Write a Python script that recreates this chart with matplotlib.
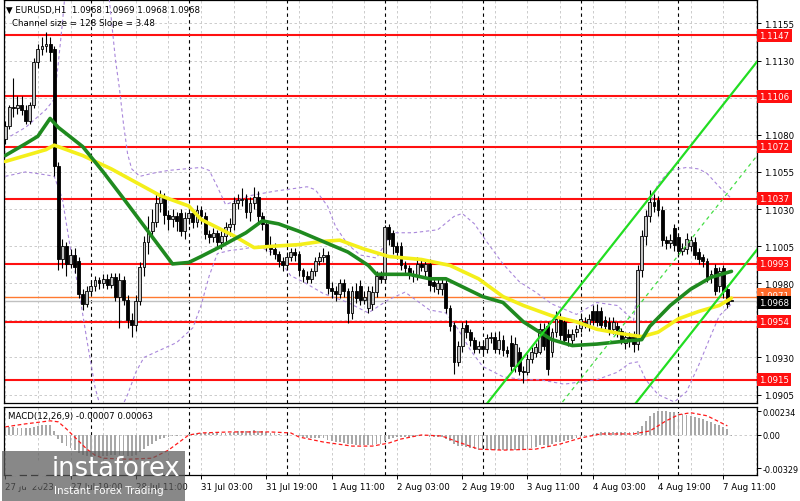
import numpy as np
import matplotlib.pyplot as plt
import matplotlib.transforms as mtransforms
from matplotlib.patches import Rectangle, Circle

# EURUSD H1 candles (bar 0 = 27 Jul 03:00)
opens = [
    1.1077, 1.1086, 1.1099, 1.1098, 1.1100, 1.1097, 1.1089, 1.1100, 1.1129, 1.1138,
    1.1140, 1.1141, 1.1138, 1.1059, 1.0996, 1.1005, 1.0993, 1.0999, 1.0995, 1.0973,
    1.0966, 1.0975, 1.0978, 1.0982, 1.0980, 1.0983, 1.0979, 1.0984, 1.0971, 1.0982,
    1.0969, 1.0955, 1.0952, 1.0968, 1.0991, 1.1008, 1.1015, 1.1021, 1.1034, 1.1038,
    1.1026, 1.1023, 1.1025, 1.1027, 1.1015, 1.1024, 1.1027, 1.1021, 1.1029, 1.1025,
    1.1013, 1.1011, 1.1014, 1.1008, 1.1012, 1.1018, 1.1020, 1.1034, 1.1036, 1.1037,
    1.1028, 1.1034, 1.1038, 1.1025, 1.1020, 1.1006, 1.1003, 1.1000, 1.0995, 1.0992,
    1.0998, 1.1001, 1.1000, 1.0989, 1.0985, 1.0983, 1.0988, 1.0995, 1.0998, 1.0999,
    1.0977, 1.0975, 1.0973, 1.0980, 1.0975, 1.0960, 1.0975, 1.0978, 1.0969, 1.0963,
    1.0966, 1.0974, 1.0985, 1.0983, 1.1018, 1.1014, 1.1005, 1.1005, 1.0992, 1.0990,
    1.0986, 1.0985, 1.0993, 1.0988, 1.0993, 1.0981, 1.0976, 1.0976, 1.0980, 1.0963,
    1.0952, 1.0927, 1.0938, 1.0952, 1.0947, 1.0942, 1.0936, 1.0938, 1.0936, 1.0943,
    1.0944, 1.0936, 1.0942, 1.0935, 1.0940, 1.0924, 1.0934, 1.0921, 1.0920, 1.0929,
    1.0933, 1.0934, 1.0949, 1.0951, 1.0934, 1.0947, 1.0956, 1.0954, 1.0946, 1.0942,
    1.0947, 1.0950, 1.0953, 1.0951, 1.0961, 1.0961, 1.0961, 1.0955, 1.0954, 1.0949,
    1.0951, 1.0948, 1.0940, 1.0944, 1.0946, 1.0939, 1.0989, 1.1012, 1.1025, 1.1035,
    1.1036, 1.1029, 1.1009, 1.1007, 1.1017, 1.1011, 1.1002, 1.1003, 1.1005, 1.1008,
    1.1001, 1.0998, 1.0995, 1.0984, 1.0990, 1.0978, 1.0990, 1.0976, 1.0968,
]
highs = [
    1.1089, 1.1100, 1.1118, 1.1106, 1.1106, 1.1100, 1.1102, 1.1132, 1.1141, 1.1146,
    1.1149, 1.1146, 1.1140, 1.1062, 1.1010, 1.1008, 1.1003, 1.1004, 1.0998, 1.0976,
    1.0978, 1.0982, 1.0985, 1.0984, 1.0986, 1.0986, 1.0987, 1.0987, 1.0987, 1.0985,
    1.0972, 1.0960, 1.0972, 1.0994, 1.1012, 1.1025, 1.1030, 1.1041, 1.1043, 1.1041,
    1.1029, 1.1030, 1.1028, 1.1030, 1.1028, 1.1031, 1.1030, 1.1033, 1.1032, 1.1028,
    1.1016, 1.1017, 1.1016, 1.1015, 1.1021, 1.1024, 1.1038, 1.1040, 1.1044, 1.1040,
    1.1038, 1.1045, 1.1042, 1.1028, 1.1022, 1.1012, 1.1007, 1.1002, 1.0998, 1.1001,
    1.1004, 1.1004, 1.1002, 1.0990, 1.0988, 1.0990, 1.0998, 1.1001, 1.1004, 1.1002,
    1.0981, 1.0978, 1.0983, 1.0983, 1.0977, 1.0978, 1.0980, 1.0982, 1.0975, 1.0978,
    1.0978, 1.0988, 1.0988, 1.1019, 1.1020, 1.1016, 1.1008, 1.1008, 1.0995, 1.0992,
    1.0989, 1.0998, 1.0997, 1.0996, 1.0996, 1.0983, 1.0984, 1.0983, 1.0982, 1.0965,
    1.0954, 1.0941, 1.0954, 1.0955, 1.0949, 1.0944, 1.0941, 1.0941, 1.0946, 1.0947,
    1.0947, 1.0948, 1.0945, 1.0938, 1.0945, 1.0944, 1.0937, 1.0924, 1.0932, 1.0937,
    1.0940, 1.0953, 1.0953, 1.0954, 1.0950, 1.0961, 1.0960, 1.0957, 1.0949, 1.0949,
    1.0952, 1.0959, 1.0957, 1.0959, 1.0965, 1.0966, 1.0964, 1.0958, 1.0957, 1.0957,
    1.0954, 1.0950, 1.0947, 1.0947, 1.0948, 1.0992, 1.1016, 1.1029, 1.1043, 1.1040,
    1.1039, 1.1032, 1.1012, 1.1013, 1.1020, 1.1014, 1.1007, 1.1014, 1.1012, 1.1011,
    1.1004, 1.1000, 1.0997, 1.0989, 1.0993, 1.0991, 1.0992, 1.0979, 1.0969,
]
lows = [
    1.1074, 1.1084, 1.1092, 1.1094, 1.1093, 1.1087, 1.1087, 1.1098, 1.1125, 1.1134,
    1.1136, 1.1130, 1.1052, 1.0989, 1.0990, 1.0985, 1.0990, 1.0987, 1.0970, 1.0962,
    1.0964, 1.0972, 1.0975, 1.0976, 1.0977, 1.0976, 1.0977, 1.0968, 1.0950, 1.0965,
    1.0950, 1.0944, 1.0948, 1.0965, 1.0985, 1.1000, 1.1010, 1.1018, 1.1028, 1.1020,
    1.1016, 1.1018, 1.1015, 1.1012, 1.1010, 1.1020, 1.1017, 1.1018, 1.1020, 1.1010,
    1.1007, 1.1008, 1.1004, 1.1003, 1.1008, 1.1012, 1.1016, 1.1030, 1.1032, 1.1024,
    1.1022, 1.1030, 1.1020, 1.1016, 1.1002, 1.0999, 1.0996, 1.0991, 1.0988, 1.0989,
    1.0995, 1.0995, 1.0985, 1.0981, 1.0980, 1.0980, 1.0985, 1.0992, 1.0994, 1.0973,
    1.0970, 1.0968, 1.0970, 1.0971, 1.0953, 1.0956, 1.0967, 1.0965, 1.0966, 1.0960,
    1.0962, 1.0971, 1.0980, 1.0980, 1.1006, 1.1000, 1.0996, 1.0989, 1.0986, 1.0983,
    1.0981, 1.0982, 1.0988, 1.0984, 1.0975, 1.0974, 1.0973, 1.0972, 1.0960, 1.0948,
    1.0919, 1.0924, 1.0934, 1.0943, 1.0938, 1.0933, 1.0933, 1.0932, 1.0933, 1.0940,
    1.0933, 1.0932, 1.0931, 1.0930, 1.0920, 1.0920, 1.0918, 1.0913, 1.0918, 1.0926,
    1.0930, 1.0932, 1.0935, 1.0918, 1.0930, 1.0944, 1.0942, 1.0939, 1.0938, 1.0939,
    1.0944, 1.0947, 1.0950, 1.0948, 1.0952, 1.0951, 1.0949, 1.0948, 1.0945, 1.0946,
    1.0944, 1.0939, 1.0936, 1.0937, 1.0934, 1.0935, 1.0984, 1.1006, 1.1021, 1.1028,
    1.1025, 1.1005, 1.1003, 1.1004, 1.1002, 1.0998, 1.0999, 1.1000, 1.1002, 1.0996,
    1.0993, 1.0991, 1.0981, 1.0980, 1.0972, 1.0974, 1.0970, 1.0963, 1.0968,
]
closes = [
    1.1086, 1.1099, 1.1098, 1.1100, 1.1097, 1.1089, 1.1100, 1.1129, 1.1138, 1.1140,
    1.1141, 1.1136, 1.1059, 1.0996, 1.1005, 1.0993, 1.0999, 1.0991, 1.0973, 1.0966,
    1.0975, 1.0978, 1.0982, 1.0980, 1.0983, 1.0979, 1.0984, 1.0971, 1.0982, 1.0969,
    1.0955, 1.0952, 1.0968, 1.0991, 1.1008, 1.1015, 1.1021, 1.1034, 1.1038, 1.1026,
    1.1023, 1.1025, 1.1022, 1.1015, 1.1024, 1.1027, 1.1021, 1.1029, 1.1025, 1.1013,
    1.1011, 1.1014, 1.1008, 1.1012, 1.1018, 1.1020, 1.1034, 1.1036, 1.1037, 1.1028,
    1.1034, 1.1038, 1.1025, 1.1020, 1.1006, 1.1003, 1.1000, 1.0995, 1.0992, 1.0998,
    1.1001, 1.0999, 1.0989, 1.0985, 1.0983, 1.0988, 1.0995, 1.0998, 1.0999, 1.0977,
    1.0975, 1.0973, 1.0980, 1.0975, 1.0960, 1.0975, 1.0970, 1.0969, 1.0971, 1.0975,
    1.0974, 1.0985, 1.0983, 1.1018, 1.1010, 1.1005, 1.1001, 1.0992, 1.0990, 1.0986,
    1.0985, 1.0993, 1.0991, 1.0993, 1.0979, 1.0978, 1.0980, 1.0980, 1.0963, 1.0951,
    1.0927, 1.0938, 1.0950, 1.0947, 1.0942, 1.0936, 1.0938, 1.0936, 1.0943, 1.0944,
    1.0936, 1.0942, 1.0935, 1.0933, 1.0924, 1.0939, 1.0921, 1.0920, 1.0929, 1.0934,
    1.0937, 1.0949, 1.0938, 1.0922, 1.0947, 1.0956, 1.0945, 1.0942, 1.0944, 1.0946,
    1.0949, 1.0956, 1.0954, 1.0956, 1.0955, 1.0954, 1.0952, 1.0951, 1.0948, 1.0954,
    1.0947, 1.0942, 1.0944, 1.0941, 1.0939, 1.0989, 1.1012, 1.1025, 1.1035, 1.1032,
    1.1029, 1.1009, 1.1007, 1.1009, 1.1006, 1.1002, 1.1004, 1.1010, 1.1009, 1.0999,
    1.0996, 1.0995, 1.0984, 1.0986, 1.0975, 1.0988, 1.0975, 1.0966, 1.0968,
]

# moving averages (bar index, price)
green_idx = [0, 5, 8, 11, 13, 19, 24, 29, 35, 41, 45, 48, 53, 59, 63, 67, 72, 78, 84,
             89, 91, 99, 104, 108, 117, 122, 127, 131, 134, 139, 145, 152, 156, 158,
             163, 168, 173, 178]
green_ma = [1.1066, 1.1074, 1.1079, 1.1091, 1.1085, 1.1072, 1.1055, 1.1037, 1.1015,
            1.0993, 1.0994, 1.0998, 1.1005, 1.1014, 1.1022, 1.1020, 1.1015, 1.1008,
            1.1001, 1.0992, 1.0986, 1.0986, 1.0983, 1.0983, 1.0971, 1.0967, 1.0954,
            1.0947, 1.0942, 1.0938, 1.0939, 1.0941, 1.0942, 1.0951, 1.0965, 1.0976,
            1.0984, 1.0988]
yellow_idx = [0, 5, 10, 12, 19, 26, 32, 38, 45, 48, 56, 61, 66, 72, 77, 82, 88, 94,
              102, 109, 116, 122, 127, 131, 134, 140, 145, 151, 156, 160, 165, 170,
              175, 178]
yellow_ma = [1.1062, 1.1066, 1.1070, 1.1073, 1.1066, 1.1057, 1.1048, 1.1039, 1.1032,
             1.1023, 1.1012, 1.1004, 1.1005, 1.1006, 1.1008, 1.1009, 1.1003, 1.0998,
             1.0996, 1.0992, 1.0983, 1.0971, 1.0965, 1.0961, 1.0958, 1.0954, 1.0949,
             1.0946, 1.0944, 1.0947, 1.0956, 1.0961, 1.0965, 1.0970]

# dotted bands
up_idx = [0, 5, 10, 12, 13, 14, 15, 25, 26, 27, 28, 29, 30, 31, 33, 36, 40, 44, 48,
          50, 52, 54, 56, 60, 66, 74, 76, 79, 81, 84, 87, 91, 93, 95, 100, 106, 110,
          112, 115, 118, 122, 126, 130, 134, 140, 145, 150, 154, 155, 156, 157, 158,
          160, 163, 167, 170, 172, 175, 178]
up_band = [1.1077, 1.1085, 1.1097, 1.1104, 1.1128, 1.1155, 1.1185, 1.1185, 1.1158,
           1.1131, 1.1111, 1.1087, 1.1067, 1.1057, 1.1052, 1.1054, 1.1056, 1.1057,
           1.1058, 1.1056, 1.1045, 1.1033, 1.1035, 1.1039, 1.1042, 1.1045, 1.1043,
           1.1032, 1.1018, 1.1006, 1.0999, 1.0997, 1.1006, 1.1014, 1.1014, 1.1016,
           1.1025, 1.1027, 1.1020, 1.1008, 1.0993, 1.0981, 1.0974, 1.0966, 1.0959,
           1.0967, 1.0965, 1.0955, 1.0976, 1.0999, 1.1020, 1.1033, 1.1047, 1.1056,
           1.1058, 1.1057, 1.1054, 1.1045, 1.1037]
lo_idx = [0, 5, 10, 12, 14, 16, 18, 20, 22, 24, 28, 30, 32, 34, 38, 42, 46, 48, 50,
          52, 55, 58, 62, 66, 70, 73, 78, 84, 89, 94, 98, 104, 108, 111, 114, 117, 122,
          127, 131, 137, 145, 150, 153, 155, 157, 160, 164, 167, 170, 173, 175, 178]
lo_band = [1.1052, 1.1055, 1.1053, 1.1052, 1.1037, 1.1003, 1.0976, 1.0942, 1.0910,
           1.0890, 1.0893, 1.0905, 1.0920, 1.0930, 1.0935, 1.0940, 1.0950, 1.0965,
           1.0985, 1.1000, 1.1002, 1.1003, 1.1005, 1.1000, 1.0985, 1.0981, 1.0973,
           1.0967, 1.0960, 1.0969, 1.0974, 1.0962, 1.0960, 1.0949, 1.0935, 1.0924,
           1.0917, 1.0915, 1.0915, 1.0912, 1.0915, 1.0920, 1.0926, 1.0927, 1.0915,
           1.0905, 1.0900, 1.0907, 1.0925, 1.0945, 1.0958, 1.0966]

levels = [1.1147, 1.1106, 1.1072, 1.1037, 1.0993, 1.0954, 1.0915]
price_ticks = [1.1155, 1.1130, 1.1080, 1.1055, 1.1030, 1.1005, 1.0980, 1.0930, 1.0905]
grid_prices = [1.1155, 1.1130, 1.1105, 1.1080, 1.1055, 1.1030, 1.1005, 1.0980,
               1.0955, 1.0930, 1.0905]
bid = 1.0968
ask_line = 1.0971

# regression channel: 128 bars, slope 3.48 pips per bar
chan_start, chan_end = 50, 184.3
chan_ref_idx = 184.0
chan_low_ref = 1.10017
chan_width = 0.01266
chan_slope = 0.000348

# MACD(12,26,9) main line, in units of 0.0001
macd_main = [
    8, 8, 8, 7, 7, 7, 7, 8, 9, 10, 10, 10, 4, -4, -8, -11, -13, -15, -18, -20,
    -21, -21, -21, -21, -21, -21, -20, -20, -20, -20, -21, -21, -20, -17, -14, -11, -9, -6, -4, -3,
    -2, -1, -1, 0, 0, 1, 1, 2, 2, 2, 2, 2, 2, 2, 2, 2, 3, 4, 4, 4,
    4, 5, 4, 4, 3, 2, 2, 1, 0, 0, 0, 0, -1, -2, -3, -3, -3, -3, -3, -5,
    -6, -7, -7, -8, -9, -9, -10, -10, -10, -10, -10, -9, -9, -6, -4, -3, -2, -2, -2, -2,
    -2, -1, -1, -1, -2, -2, -2, -2, -4, -6, -9, -11, -11, -12, -13, -14, -15, -15, -15, -15,
    -15, -15, -15, -15, -15, -15, -15, -15, -14, -13, -12, -10, -10, -11, -9, -7, -7, -6, -5, -4,
    -3, -2, -1, 0, 1, 2, 3, 3, 3, 3, 3, 3, 3, 3, 3, 4, 9, 14, 19, 22,
    24, 24, 24, 23, 23, 22, 21, 20, 19, 18, 17, 16, 14, 13, 11, 10, 8, 6, -1,
]
signal_idx = [0, 5, 11, 13, 15, 18, 20, 22, 24, 30, 36, 40, 43, 45, 48, 55, 65, 70,
              72, 78, 85, 90, 94, 97, 102, 107, 111, 116, 122, 130, 136, 141, 146,
              154, 158, 162, 165, 168, 172, 177]
signal_vals = [8, 11, 14, 13, 6, -6, -14, -20, -23, -24, -23, -15, -6, 0, 2, 3, 3, 2,
               -2, -7, -11, -11, -8, -4, 0, -1, -7, -14, -15, -14, -9, -3, 1, 1, 4, 14,
               20, 22, 19, 9]

time_ticks = list(range(0, 177, 16))
time_labels = ["27 Jul 2023", "27 Jul 19:00", "28 Jul 11:00", "31 Jul 03:00",
               "31 Jul 19:00", "1 Aug 11:00", "2 Aug 03:00", "2 Aug 19:00",
               "3 Aug 11:00", "4 Aug 03:00", "4 Aug 19:00", "7 Aug 11:00"]
day_breaks = [21, 45, 69, 93, 117, 141, 165]

FS = 6.2
fig = plt.figure(figsize=(8, 5.02), dpi=100)
ax = fig.add_axes([0.005, 0.1952, 0.94125, 0.8028])
mx = fig.add_axes([0.005, 0.0518, 0.94125, 0.1355], sharex=ax)

xlim = (-0.3, 184.26)
ax.set_xlim(*xlim)
ax.set_ylim(1.08993, 1.11708)
mx.set_ylim(-0.00396, 0.00277)

grid_kw = dict(color='#c4c4c4', lw=0.6, dashes=(3, 3), zorder=0)
for p in grid_prices:
    ax.axhline(p, **grid_kw)
for a in (ax, mx):
    for t in range(0, 185, 8):
        a.axvline(t, **grid_kw)
    for d in day_breaks:
        a.axvline(d, color='black', lw=0.8, dashes=(3, 3), zorder=1)
mx.axhline(0, **grid_kw)

# horizontal levels
for lv in levels:
    ax.axhline(lv, color='#ff1010', lw=1.5, zorder=2)
ax.axhline(ask_line, color='#ff7a30', lw=1.0, zorder=2)
ax.axhline(bid, color='#c0c0c0', lw=1.0, zorder=2)

# dotted bands
ax.plot(up_idx, up_band, color='#a987db', lw=0.8, dashes=(3, 2.5), zorder=3)
ax.plot(lo_idx, lo_band, color='#a987db', lw=0.8, dashes=(3, 2.5), zorder=3)

# candles
o = np.array(opens)
c = np.array(closes)
h = np.array(highs)
l = np.array(lows)
x = np.arange(len(c))
ax.vlines(x, l, h, color='black', lw=0.8, zorder=4)
body = np.maximum(np.abs(c - o), 0.00004)
cols = np.where(c >= o, '#c4c4c4', 'black')
ax.bar(x, body, bottom=np.minimum(o, c), width=0.7, color=cols,
       edgecolor='black', linewidth=0.6, zorder=5)

# moving averages
ax.plot(yellow_idx, yellow_ma, color='#f4ef1a', lw=2.6, zorder=6, solid_capstyle='round')
ax.plot(green_idx, green_ma, color='#1f8a1f', lw=2.6, zorder=7, solid_capstyle='round')

# regression channel
cx = np.array([chan_start, chan_end])
low_line = chan_low_ref + chan_slope * (cx - chan_ref_idx)
ax.plot(cx, low_line, color='#22dd22', lw=1.6, zorder=8)
ax.plot(cx, low_line + chan_width, color='#22dd22', lw=1.6, zorder=8)
ax.plot(cx, low_line + chan_width / 2, color='#44dd44', lw=0.9, dashes=(3, 3), zorder=8)

# right price scale
ax.yaxis.tick_right()
ax.set_yticks(price_ticks)
ax.set_yticklabels(['%.4f' % p for p in price_ticks])
ax.tick_params(axis='y', labelsize=FS, length=3, pad=2, width=0.7)
ax.tick_params(axis='x', bottom=False, labelbottom=False)
trans = mtransforms.blended_transform_factory(ax.transAxes, ax.transData)
for lv in levels:
    ax.text(1.003, lv, '%.4f' % lv, transform=trans, fontsize=FS, color='white',
            va='center', ha='left', zorder=10,
            bbox=dict(boxstyle='square,pad=0.25', fc='#ff1010', ec='none'))
ax.text(1.003, ask_line + 0.0001, '%.4f' % ask_line, transform=trans, fontsize=FS,
        color='white', va='center', ha='left', zorder=10,
        bbox=dict(boxstyle='square,pad=0.25', fc='#ff6a2a', ec='none'))
ax.text(1.003, bid - 0.00012, '%.4f' % bid, transform=trans, fontsize=FS, color='white',
        va='center', ha='left', zorder=11,
        bbox=dict(boxstyle='square,pad=0.25', fc='black', ec='none'))

# MACD panel
mx.bar(x, np.array(macd_main) * 1e-4, width=0.45, color='#a8a8a8', zorder=2)
mx.plot(signal_idx, np.array(signal_vals) * 1e-4, color='#ff1a1a', lw=0.9,
        dashes=(3, 2), zorder=3)
mx.yaxis.tick_right()
mx.set_yticks([0.00234, 0.0, -0.00329])
mx.set_yticklabels(['0.00234', '0.00', '-0.00329'])
mx.tick_params(axis='y', labelsize=5.9, length=3, pad=1, width=0.7)
mx.set_xticks(time_ticks)
mx.set_xticklabels(time_labels, ha='left')
mx.tick_params(axis='x', labelsize=FS, length=3, pad=2, width=0.7)

for a in (ax, mx):
    for s in a.spines.values():
        s.set_linewidth(0.9)
        s.set_color('black')

fig.text(6 / 800, 1 - 10 / 502, '\u25bc EURUSD,H1  1.0968 1.0969 1.0968 1.0968',
         fontsize=FS, va='center', ha='left')
fig.text(12 / 800, 1 - 24 / 502, 'Channel size = 128 Slope = 3.48',
         fontsize=FS, va='center', ha='left')
fig.text(8 / 800, 1 - 416 / 502, 'MACD(12,26,9) -0.00007 0.00063',
         fontsize=FS, va='center', ha='left')

# watermark
fig.patches.append(Rectangle((2 / 800, 0), 183 / 800, 50 / 502, transform=fig.transFigure,
                             fc='#5a5a5a', ec='none', alpha=0.72, zorder=20))
fig.text(52 / 800, 1 - 469 / 502, 'instaforex', fontsize=18.5, color='white',
         va='center', ha='left', zorder=21)
fig.text(54 / 800, 1 - 491 / 502, 'Instant Forex Trading', fontsize=7.5, color='white',
         va='center', ha='left', zorder=21)
ia = fig.add_axes([8 / 800, 1 - 498 / 502, 42 / 800, 42 / 502])
ia.set_xlim(-1, 1)
ia.set_ylim(-1, 1)
ia.axis('off')
ia.add_patch(Circle((0, 0.1), 0.55, fc='none', ec='white', lw=3))
for ang in np.linspace(0, 2 * np.pi, 9)[:-1]:
    ia.add_patch(Circle((0.7 * np.cos(ang), 0.1 + 0.7 * np.sin(ang)), 0.14, fc='white', ec='none'))
ia.add_patch(Circle((0, 0.25), 0.17, fc='white', ec='none'))
ia.add_patch(Rectangle((-0.1, -0.8), 0.2, 0.9, fc='white', ec='none'))

fig.savefig('out.png', dpi=100)
